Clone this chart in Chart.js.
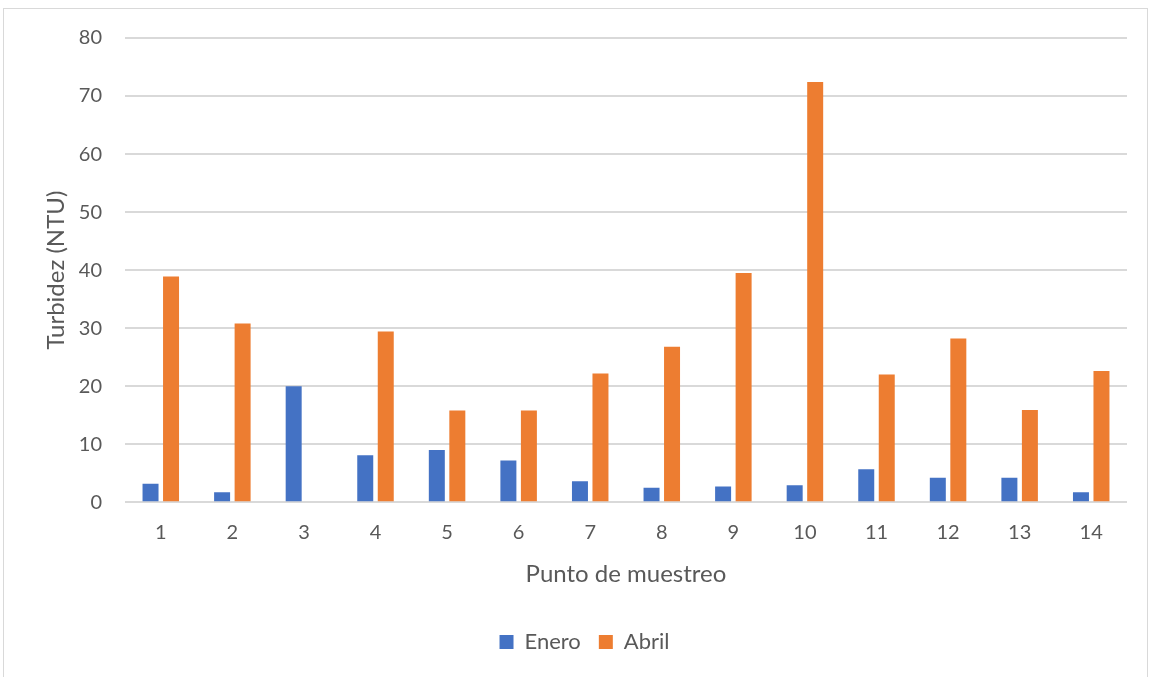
<!DOCTYPE html>
<html>
<head>
<meta charset="utf-8">
<script src="https://cdn.jsdelivr.net/npm/chart.js@4"></script>
<style>
  html, body { margin: 0; padding: 0; background: #fff; }
  #frame { position: absolute; left: 3px; top: 8px; width: 1145px; height: 680px; border: 1px solid #d9d9d9; box-sizing: border-box; }
  #wrap { position: absolute; left: 0; top: 0; width: 1151px; height: 677px; }
</style>
</head>
<body>
<div id="frame"></div>
<div id="wrap"><canvas id="turbidez-chart"></canvas></div>
<script>
// Turbidez por punto de muestreo - barras agrupadas Enero / Abril

const puntos = ["1", "2", "3", "4", "5", "6", "7", "8", "9", "10", "11", "12", "13", "14"];
const enero = [3.2, 1.7, 20.0, 8.1, 9.0, 7.2, 3.6, 2.5, 2.7, 2.9, 5.7, 4.2, 4.2, 1.7];
const abril = [38.9, 30.8, 0, 29.4, 15.8, 15.8, 22.2, 26.8, 39.5, 72.4, 22.0, 28.2, 15.9, 22.6];
const yTicks = [0, 10, 20, 30, 40, 50, 60, 70, 80];

const textColor = "#595959";
const gridColor = "#d9d9d9";
const fontFamily = "Lato, 'Open Sans', sans-serif";

function makeDataset(label, values, color) {
    return {
        label: label,
        data: values,
        backgroundColor: color,
        borderWidth: 0,
        categoryPercentage: 0.573,
        barPercentage: 0.78
    };
}

const config = {
    type: "bar",
    data: {
        labels: puntos,
        datasets: [
            makeDataset("Enero", enero, "#4472c4"),
            makeDataset("Abril", abril, "#ed7d31")
        ]
    },
    options: {
        responsive: false,
        animation: false,
        maintainAspectRatio: false,
        layout: {
            padding: { left: 42, right: 24, top: 38, bottom: 14 }
        },
        plugins: {
            legend: {
                position: "bottom",
                labels: {
                    color: textColor,
                    font: { family: fontFamily, size: 22 },
                    boxWidth: 14,
                    boxHeight: 14,
                    padding: 18
                }
            },
            tooltip: { enabled: false }
        },
        scales: {
            x: {
                grid: { display: false },
                border: { display: false },
                ticks: {
                    color: textColor,
                    font: { family: fontFamily, size: 20 },
                    padding: 10
                },
                title: {
                    display: true,
                    text: "Punto de muestreo",
                    color: textColor,
                    font: { family: fontFamily, size: 24 },
                    padding: { top: 6, bottom: 24 }
                }
            },
            y: {
                min: 0,
                max: 80,
                afterBuildTicks: axis => { axis.ticks = yTicks.map(v => ({ value: v })); },
                afterFit: axis => { axis.width = 83; },
                grid: { color: gridColor, lineWidth: 2, drawTicks: false },
                border: { display: false },
                ticks: {
                    color: textColor,
                    font: { family: fontFamily, size: 20 },
                    padding: 23
                },
                title: {
                    display: true,
                    text: "Turbidez (NTU)",
                    color: textColor,
                    font: { family: fontFamily, size: 24 },
                    padding: { top: 0, bottom: 9 }
                }
            }
        }
    }
};

const canvas = document.getElementById("turbidez-chart");
canvas.width = 1151;
canvas.height = 677;
new Chart(canvas, config);
</script>
</body>
</html>
